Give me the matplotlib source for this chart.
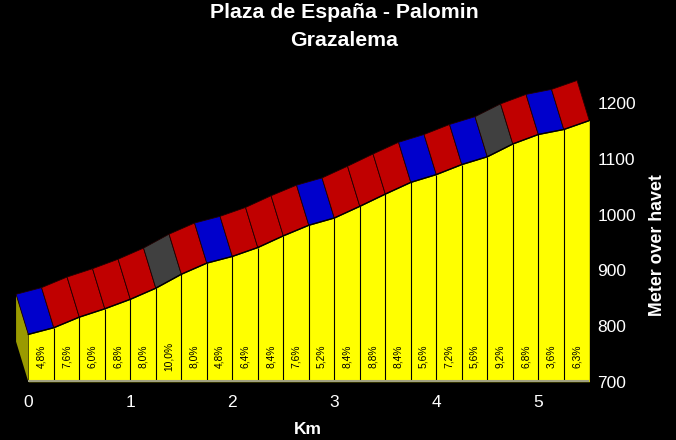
import matplotlib
matplotlib.use("Agg")
import matplotlib.pyplot as plt
from matplotlib.patches import Polygon

# Data
km = [0.0, 0.25, 0.5, 0.75, 1.0, 1.25, 1.5, 1.75, 2.0, 2.25, 2.5, 2.75,
      3.0, 3.25, 3.5, 3.75, 4.0, 4.25, 4.5, 4.75, 5.0, 5.25, 5.5]
elevation = [785, 797, 816, 831, 848, 868, 893, 913, 925, 941, 962, 981,
             994, 1015, 1037, 1058, 1072, 1090, 1104, 1127, 1144, 1153, 1169]
gradient_labels = ["4,8%", "7,6%", "6,0%", "6,8%", "8,0%", "10,0%", "8,0%",
                   "4,8%", "6,4%", "8,4%", "7,6%", "5,2%", "8,4%", "8,8%",
                   "8,4%", "5,6%", "7,2%", "5,6%", "9,2%", "6,8%", "3,6%",
                   "6,3%"]
gradient_values = [4.8, 7.6, 6.0, 6.8, 8.0, 10.0, 8.0, 4.8, 6.4, 8.4, 7.6,
                   5.2, 8.4, 8.8, 8.4, 5.6, 7.2, 5.6, 9.2, 6.8, 3.6, 6.3]
x_ticks = [0, 1, 2, 3, 4, 5]
y_ticks = [700, 800, 900, 1000, 1100, 1200]

# Style constants
DX, DY = -0.12, 72
BASE = 700

def seg_color(g):
    if g < 6.0:
        return "#0000cc"
    if g < 9.0:
        return "#c00000"
    return "#404040"

fig = plt.figure(figsize=(6.76, 4.4), dpi=100, facecolor="black")
ax = fig.add_axes([0.0, 0.1325, 0.87175, 0.6960])
ax.set_facecolor("black")
ax.set_xlim(-0.2775, 5.5)
ax.set_ylim(700, 1250)
for s in ax.spines.values():
    s.set_visible(False)

# left side face
side = Polygon([(km[0], BASE), (km[0], elevation[0]),
                (km[0] + DX, elevation[0] + DY), (km[0] + DX, BASE + DY)],
               closed=True, facecolor="#9a9a00", edgecolor="none", zorder=1)
ax.add_patch(side)

# ribbon
for i in range(len(km) - 1):
    poly = Polygon([(km[i], elevation[i]), (km[i + 1], elevation[i + 1]),
                    (km[i + 1] + DX, elevation[i + 1] + DY),
                    (km[i] + DX, elevation[i] + DY)],
                   closed=True, facecolor=seg_color(gradient_values[i]),
                   edgecolor="#200000", linewidth=0.6, zorder=2)
    ax.add_patch(poly)

# front face
ax.fill_between(km, BASE, elevation, color="#ffff00", linewidth=0, zorder=3)
ax.vlines(km[1:-1], BASE, elevation[1:-1], color="black", linewidth=0.8, zorder=4)
ax.plot(km, elevation, color="black", linewidth=1.0, zorder=5)
ax.hlines(BASE + 1.5, km[0], km[-1], color="#a0a080", linewidth=1.5, zorder=5)

for i, lab in enumerate(gradient_labels):
    xc = (km[i] + km[i + 1]) / 2
    ax.text(xc, 745, lab, rotation=90, ha="center", va="center",
            fontsize=7.4, color="black", family="Liberation Sans", zorder=6)

ax.set_xticks(x_ticks)
ax.set_yticks(y_ticks)
ax.tick_params(axis="x", length=0, pad=9.5, colors="white", labelsize=12.5)
ax.tick_params(axis="y", length=0, pad=5.8, colors="white", labelsize=12.5,
               labelleft=False, labelright=True, left=False, right=False)
for lab in ax.get_xticklabels() + ax.get_yticklabels():
    lab.set_family("Liberation Sans")

fig.text(344 / 676, 1 - 13 / 440, "Plaza de España - Palomin", ha="center",
         va="center", color="white", fontsize=15.3, fontweight="bold",
         family="Liberation Sans")
fig.text(344 / 676, 1 - 41 / 440, "Grazalema", ha="center", va="center",
         color="white", fontsize=15.3, fontweight="bold", family="Liberation Sans")
fig.text(308 / 676, 1 - 429 / 440, "Km", ha="center", va="center",
         color="white", fontsize=12.5, fontweight="bold", family="Liberation Sans")
fig.text(658 / 676, 1 - 245 / 440, "Meter over havet", ha="center",
         va="center", rotation=90, color="white", fontsize=12.8,
         fontweight="bold", family="Liberation Sans")

fig.savefig("out.png", dpi=100, facecolor="black")
